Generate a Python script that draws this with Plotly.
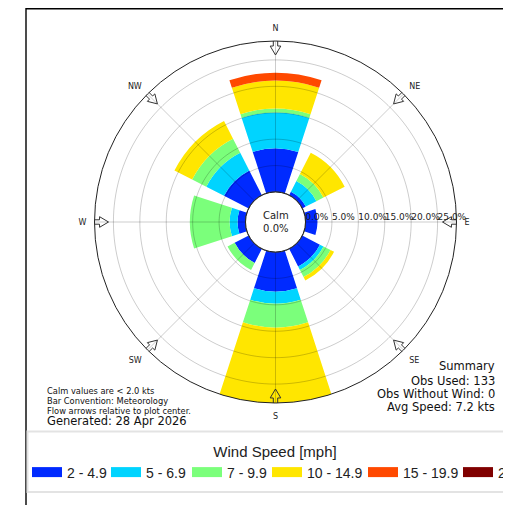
import math
import plotly.graph_objects as go

# ---------------- data ----------------
directions = ["N", "NE", "E", "SE", "S", "SW", "W", "NW"]
direction_deg = [0, 45, 90, 135, 180, 225, 270, 315]
speed_bins = ["2 - 4.9", "5 - 6.9", "7 - 9.9", "10 - 14.9", "15 - 19.9", "20+"]
bin_colors = ["#002aff", "#00d4ff", "#7bff7b", "#ffe600", "#ff4900", "#800000"]

# frequency (%) per direction for each speed bin
freq_2_5 = [8.27, 0.75, 2.26, 3.76, 7.52, 3.01, 1.50, 5.26]
freq_5_7 = [6.77, 2.26, 0.00, 0.75, 2.26, 0.00, 1.50, 3.76]
freq_7_10 = [0.75, 1.50, 0.00, 1.50, 4.51, 1.50, 7.52, 3.01]
freq_10_15 = [5.26, 4.51, 0.00, 0.75, 14.29, 0.00, 0.00, 3.76]
freq_15_20 = [1.50, 0.00, 0.00, 0.00, 0.00, 0.00, 0.00, 0.00]
freq_20_up = [0.00, 0.00, 0.00, 0.00, 0.00, 0.00, 0.00, 0.00]

radial_ticks = [0, 5, 10, 15, 20, 25]
calm_pct = 0.0
obs_used = 133
obs_without_wind = 0
avg_speed_kts = 7.2
generated = "28 Apr 2026"

series = [freq_2_5, freq_5_7, freq_7_10, freq_10_15, freq_15_20, freq_20_up]

# ---------------- layout geometry (figure pixels) ----------------
W, H = 503, 497
CX, CY, R, HOLE = 267.5, 214.0, 181.0, 30.0
totals = [sum(s[i] for s in series) for i in range(len(directions))]
rmax = max(totals)
ppu = (R - HOLE) / rmax  # px per percent
BAR_W = 36
GRID = "rgba(0,0,0,0.2)"
FONT = "DejaVu Sans"
LEG_FONT = "Liberation Sans, Arial, sans-serif"
legend_widths = [34, 36, 35, 51, 50, 20]

fig = go.Figure()

for name, color, vals in zip(speed_bins, bin_colors, series):
    fig.add_trace(go.Barpolar(
        r=vals, theta=direction_deg, width=[BAR_W] * len(vals), name=name,
        marker=dict(color=color, line=dict(width=0)),
        showlegend=False, legendgroup=name, hoverinfo="skip"))

circ = list(range(0, 361, 2))
for v in radial_ticks[1:]:
    fig.add_trace(go.Scatterpolar(
        r=[v] * len(circ), theta=circ, mode="lines",
        line=dict(color=GRID, width=1), showlegend=False, hoverinfo="skip"))
for d in direction_deg:
    fig.add_trace(go.Scatterpolar(
        r=[0, rmax], theta=[d, d], mode="lines",
        line=dict(color=GRID, width=1), showlegend=False, hoverinfo="skip"))

# calm circle outline
fig.add_trace(go.Scatterpolar(
    r=[0] * len(circ), theta=circ, mode="lines",
    line=dict(color="#444", width=1.2), showlegend=False, hoverinfo="skip",
    cliponaxis=False))

# flow arrows (hollow, pointing to the centre)
arrow_shape = [(183.7, -2.2), (176, -2.2), (176, -5.3), (167, 0), (176, 5.3),
               (176, 2.2), (183.7, 2.2), (183.7, -2.2)]
for d in direction_deg:
    rr = [(a - HOLE) / ppu for a, w in arrow_shape]
    tt = [d + math.degrees(math.atan2(w, a)) for a, w in arrow_shape]
    fig.add_trace(go.Scatterpolar(
        r=rr, theta=tt, mode="lines", line=dict(color="#333", width=1),
        showlegend=False, hoverinfo="skip", cliponaxis=False))

# radial labels
fig.add_trace(go.Scatterpolar(
    r=radial_ticks, theta=[90] * len(radial_ticks), mode="text",
    text=[f"{v:.1f}%" for v in radial_ticks], textposition="top right",
    textfont=dict(family=FONT, size=9, color="#222"),
    showlegend=False, hoverinfo="skip", cliponaxis=False))

# legend entries
for name, color, lw in zip(speed_bins, bin_colors, legend_widths):
    fig.add_trace(go.Scatterpolar(
        r=[None], theta=[None], mode="lines", name=name, legendgroup=name,
        legendwidth=lw, line=dict(color=color, width=10), showlegend=True,
        hoverinfo="skip"))


def px_x(x):
    return x / W


def px_y(y):
    return 1 - y / H


annotations = [
    dict(x=px_x(CX), y=px_y(CY), text=f"Calm<br>{calm_pct:.1f}%", showarrow=False,
         font=dict(family=FONT, size=10, color="#222"), xanchor="center", yanchor="middle"),
]
left_notes = [("Calm values are < 2.0 kts", 383, 8.3),
              ("Bar Convention: Meteorology", 393, 8.3),
              ("Flow arrows relative to plot center.", 402.5, 8.3),
              (f"Generated: {generated}", 413, 11.5)]
for txt, y, s in left_notes:
    annotations.append(dict(x=px_x(37), y=px_y(y), text=txt, showarrow=False,
                            xanchor="left", yanchor="middle",
                            font=dict(family=FONT, size=s, color="#111")))
summary = [("Summary", 357.7), (f"Obs Used: {obs_used}", 372.5),
           (f"Obs Without Wind: {obs_without_wind}", 385.5),
           (f"Avg Speed: {avg_speed_kts} kts", 399)]
for txt, y in summary:
    annotations.append(dict(x=px_x(489), y=px_y(y), text=txt, showarrow=False,
                            xanchor="right", yanchor="middle",
                            font=dict(family=FONT, size=11.5, color="#111")))

fig.update_layout(
    width=W, height=H, margin=dict(l=0, r=0, t=0, b=0, autoexpand=False),
    paper_bgcolor="white",
    polar=dict(
        domain=dict(x=[(CX - R) / W, (CX + R) / W], y=[1 - (CY + R) / H, 1 - (CY - R) / H]),
        hole=HOLE / R, bgcolor="white", barmode="stack",
        radialaxis=dict(range=[0, rmax], showgrid=False, showline=False,
                        showticklabels=False, ticks=""),
        angularaxis=dict(rotation=90, direction="clockwise", tickmode="array",
                         tickvals=direction_deg, ticktext=directions, showgrid=False,
                         showline=True, linecolor="#222", linewidth=1,
                         ticks="outside", ticklen=6, tickcolor="rgba(0,0,0,0)",
                         tickfont=dict(family=FONT, size=8, color="#222")),
    ),
    showlegend=True,
    legend=dict(orientation="h", x=px_x(19), xanchor="left", y=px_y(429), yanchor="top",
                bgcolor="rgba(0,0,0,0)", borderwidth=0,
                font=dict(family=LEG_FONT, size=14, color="#222"),
                title=dict(text="Wind Speed [mph]", side="top center",
                           font=dict(family=LEG_FONT, size=15, color="#222"))),
    annotations=annotations,
    shapes=[
        dict(type="rect", xref="paper", yref="paper", x0=px_x(18), x1=1.2,
             y0=-0.2, y1=px_y(0.7), line=dict(color="black", width=1.4),
             fillcolor="rgba(0,0,0,0)", layer="below"),
        dict(type="rect", xref="paper", yref="paper", x0=px_x(19.5), x1=1.2,
             y0=px_y(484), y1=px_y(423.5), line=dict(color="#e3e3e3", width=2),
             fillcolor="rgba(0,0,0,0)", layer="below"),
    ],
)

fig.write_html("out.html")
